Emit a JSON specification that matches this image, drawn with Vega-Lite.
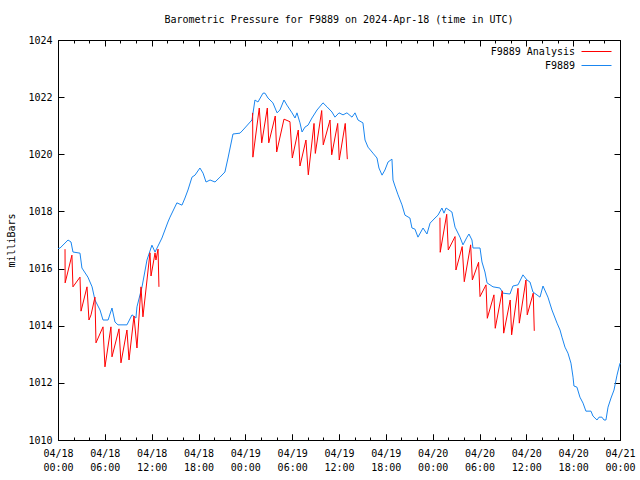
{
  "$schema": "https://vega.github.io/schema/vega-lite/v6.json",
  "width": 562,
  "height": 400,
  "autosize": {"type": "none"},
  "padding": {"left": 58, "top": 40, "right": 20, "bottom": 40},
  "background": "white",
  "config": {"view": {"stroke": null}},
  "title": {"text": "Barometric Pressure for F9889 on 2024-Apr-18 (time in UTC)", "font": "DejaVu Sans Mono", "fontSize": 10, "fontWeight": "normal", "color": "black", "offset": 10},
  "data": {"values": [
    {"t":"2024-04-18T00:00Z","p":1016.70,"s":"F9889","g":"b"},
    {"t":"2024-04-18T00:16Z","p":1016.72,"s":"F9889","g":"b"},
    {"t":"2024-04-18T01:17Z","p":1017.00,"s":"F9889","g":"b"},
    {"t":"2024-04-18T01:40Z","p":1016.93,"s":"F9889","g":"b"},
    {"t":"2024-04-18T01:55Z","p":1016.58,"s":"F9889","g":"b"},
    {"t":"2024-04-18T02:49Z","p":1016.54,"s":"F9889","g":"b"},
    {"t":"2024-04-18T03:04Z","p":1016.02,"s":"F9889","g":"b"},
    {"t":"2024-04-18T03:50Z","p":1015.70,"s":"F9889","g":"b"},
    {"t":"2024-04-18T04:22Z","p":1015.36,"s":"F9889","g":"b"},
    {"t":"2024-04-18T04:44Z","p":1014.90,"s":"F9889","g":"b"},
    {"t":"2024-04-18T05:23Z","p":1014.55,"s":"F9889","g":"b"},
    {"t":"2024-04-18T05:46Z","p":1014.20,"s":"F9889","g":"b"},
    {"t":"2024-04-18T06:25Z","p":1014.20,"s":"F9889","g":"b"},
    {"t":"2024-04-18T06:55Z","p":1014.62,"s":"F9889","g":"b"},
    {"t":"2024-04-18T07:18Z","p":1014.13,"s":"F9889","g":"b"},
    {"t":"2024-04-18T07:41Z","p":1014.03,"s":"F9889","g":"b"},
    {"t":"2024-04-18T08:50Z","p":1014.03,"s":"F9889","g":"b"},
    {"t":"2024-04-18T09:29Z","p":1014.38,"s":"F9889","g":"b"},
    {"t":"2024-04-18T09:59Z","p":1014.27,"s":"F9889","g":"b"},
    {"t":"2024-04-18T10:07Z","p":1014.66,"s":"F9889","g":"b"},
    {"t":"2024-04-18T10:46Z","p":1015.36,"s":"F9889","g":"b"},
    {"t":"2024-04-18T11:24Z","p":1016.30,"s":"F9889","g":"b"},
    {"t":"2024-04-18T12:02Z","p":1016.82,"s":"F9889","g":"b"},
    {"t":"2024-04-18T12:26Z","p":1016.58,"s":"F9889","g":"b"},
    {"t":"2024-04-18T13:19Z","p":1017.07,"s":"F9889","g":"b"},
    {"t":"2024-04-18T14:05Z","p":1017.63,"s":"F9889","g":"b"},
    {"t":"2024-04-18T14:21Z","p":1017.80,"s":"F9889","g":"b"},
    {"t":"2024-04-18T15:14Z","p":1018.30,"s":"F9889","g":"b"},
    {"t":"2024-04-18T15:53Z","p":1018.22,"s":"F9889","g":"b"},
    {"t":"2024-04-18T16:16Z","p":1018.47,"s":"F9889","g":"b"},
    {"t":"2024-04-18T16:39Z","p":1018.75,"s":"F9889","g":"b"},
    {"t":"2024-04-18T17:10Z","p":1019.20,"s":"F9889","g":"b"},
    {"t":"2024-04-18T17:33Z","p":1019.27,"s":"F9889","g":"b"},
    {"t":"2024-04-18T18:11Z","p":1019.52,"s":"F9889","g":"b"},
    {"t":"2024-04-18T18:35Z","p":1019.34,"s":"F9889","g":"b"},
    {"t":"2024-04-18T18:58Z","p":1019.03,"s":"F9889","g":"b"},
    {"t":"2024-04-18T19:29Z","p":1019.10,"s":"F9889","g":"b"},
    {"t":"2024-04-18T20:07Z","p":1019.03,"s":"F9889","g":"b"},
    {"t":"2024-04-18T20:45Z","p":1019.20,"s":"F9889","g":"b"},
    {"t":"2024-04-18T21:23Z","p":1019.38,"s":"F9889","g":"b"},
    {"t":"2024-04-18T21:47Z","p":1019.87,"s":"F9889","g":"b"},
    {"t":"2024-04-18T22:25Z","p":1020.71,"s":"F9889","g":"b"},
    {"t":"2024-04-18T23:19Z","p":1020.74,"s":"F9889","g":"b"},
    {"t":"2024-04-18T23:42Z","p":1020.85,"s":"F9889","g":"b"},
    {"t":"2024-04-19T00:51Z","p":1021.20,"s":"F9889","g":"b"},
    {"t":"2024-04-19T01:14Z","p":1021.90,"s":"F9889","g":"b"},
    {"t":"2024-04-19T01:37Z","p":1021.83,"s":"F9889","g":"b"},
    {"t":"2024-04-19T02:16Z","p":1022.14,"s":"F9889","g":"b"},
    {"t":"2024-04-19T02:31Z","p":1022.14,"s":"F9889","g":"b"},
    {"t":"2024-04-19T02:54Z","p":1021.97,"s":"F9889","g":"b"},
    {"t":"2024-04-19T03:32Z","p":1021.80,"s":"F9889","g":"b"},
    {"t":"2024-04-19T04:04Z","p":1021.45,"s":"F9889","g":"b"},
    {"t":"2024-04-19T04:26Z","p":1021.55,"s":"F9889","g":"b"},
    {"t":"2024-04-19T04:57Z","p":1021.90,"s":"F9889","g":"b"},
    {"t":"2024-04-19T05:20Z","p":1021.72,"s":"F9889","g":"b"},
    {"t":"2024-04-19T05:59Z","p":1021.45,"s":"F9889","g":"b"},
    {"t":"2024-04-19T06:22Z","p":1021.27,"s":"F9889","g":"b"},
    {"t":"2024-04-19T06:37Z","p":1021.45,"s":"F9889","g":"b"},
    {"t":"2024-04-19T07:00Z","p":1021.10,"s":"F9889","g":"b"},
    {"t":"2024-04-19T07:16Z","p":1020.78,"s":"F9889","g":"b"},
    {"t":"2024-04-19T07:38Z","p":1020.95,"s":"F9889","g":"b"},
    {"t":"2024-04-19T08:02Z","p":1021.02,"s":"F9889","g":"b"},
    {"t":"2024-04-19T08:32Z","p":1021.27,"s":"F9889","g":"b"},
    {"t":"2024-04-19T09:11Z","p":1021.55,"s":"F9889","g":"b"},
    {"t":"2024-04-19T09:57Z","p":1021.80,"s":"F9889","g":"b"},
    {"t":"2024-04-19T10:28Z","p":1021.66,"s":"F9889","g":"b"},
    {"t":"2024-04-19T11:06Z","p":1021.48,"s":"F9889","g":"b"},
    {"t":"2024-04-19T11:29Z","p":1021.30,"s":"F9889","g":"b"},
    {"t":"2024-04-19T12:00Z","p":1021.45,"s":"F9889","g":"b"},
    {"t":"2024-04-19T12:31Z","p":1021.38,"s":"F9889","g":"b"},
    {"t":"2024-04-19T13:01Z","p":1021.45,"s":"F9889","g":"b"},
    {"t":"2024-04-19T13:40Z","p":1021.30,"s":"F9889","g":"b"},
    {"t":"2024-04-19T14:03Z","p":1021.45,"s":"F9889","g":"b"},
    {"t":"2024-04-19T14:26Z","p":1021.20,"s":"F9889","g":"b"},
    {"t":"2024-04-19T15:04Z","p":1021.10,"s":"F9889","g":"b"},
    {"t":"2024-04-19T15:20Z","p":1020.50,"s":"F9889","g":"b"},
    {"t":"2024-04-19T15:43Z","p":1020.25,"s":"F9889","g":"b"},
    {"t":"2024-04-19T16:21Z","p":1020.04,"s":"F9889","g":"b"},
    {"t":"2024-04-19T16:52Z","p":1019.87,"s":"F9889","g":"b"},
    {"t":"2024-04-19T17:07Z","p":1019.52,"s":"F9889","g":"b"},
    {"t":"2024-04-19T17:31Z","p":1019.27,"s":"F9889","g":"b"},
    {"t":"2024-04-19T17:53Z","p":1019.45,"s":"F9889","g":"b"},
    {"t":"2024-04-19T18:17Z","p":1019.73,"s":"F9889","g":"b"},
    {"t":"2024-04-19T18:47Z","p":1019.83,"s":"F9889","g":"b"},
    {"t":"2024-04-19T18:55Z","p":1019.10,"s":"F9889","g":"b"},
    {"t":"2024-04-19T19:10Z","p":1018.89,"s":"F9889","g":"b"},
    {"t":"2024-04-19T19:34Z","p":1018.58,"s":"F9889","g":"b"},
    {"t":"2024-04-19T20:04Z","p":1018.23,"s":"F9889","g":"b"},
    {"t":"2024-04-19T20:27Z","p":1017.87,"s":"F9889","g":"b"},
    {"t":"2024-04-19T21:05Z","p":1017.77,"s":"F9889","g":"b"},
    {"t":"2024-04-19T21:21Z","p":1017.42,"s":"F9889","g":"b"},
    {"t":"2024-04-19T21:44Z","p":1017.38,"s":"F9889","g":"b"},
    {"t":"2024-04-19T22:07Z","p":1017.10,"s":"F9889","g":"b"},
    {"t":"2024-04-19T22:46Z","p":1017.42,"s":"F9889","g":"b"},
    {"t":"2024-04-19T23:16Z","p":1017.21,"s":"F9889","g":"b"},
    {"t":"2024-04-19T23:40Z","p":1017.59,"s":"F9889","g":"b"},
    {"t":"2024-04-20T00:18Z","p":1017.77,"s":"F9889","g":"b"},
    {"t":"2024-04-20T00:41Z","p":1017.87,"s":"F9889","g":"b"},
    {"t":"2024-04-20T01:11Z","p":1018.12,"s":"F9889","g":"b"},
    {"t":"2024-04-20T01:27Z","p":1017.94,"s":"F9889","g":"b"},
    {"t":"2024-04-20T01:43Z","p":1018.12,"s":"F9889","g":"b"},
    {"t":"2024-04-20T02:28Z","p":1017.98,"s":"F9889","g":"b"},
    {"t":"2024-04-20T02:52Z","p":1017.45,"s":"F9889","g":"b"},
    {"t":"2024-04-20T03:30Z","p":1017.10,"s":"F9889","g":"b"},
    {"t":"2024-04-20T03:53Z","p":1016.83,"s":"F9889","g":"b"},
    {"t":"2024-04-20T04:24Z","p":1017.10,"s":"F9889","g":"b"},
    {"t":"2024-04-20T04:39Z","p":1017.21,"s":"F9889","g":"b"},
    {"t":"2024-04-20T05:02Z","p":1017.00,"s":"F9889","g":"b"},
    {"t":"2024-04-20T05:10Z","p":1016.72,"s":"F9889","g":"b"},
    {"t":"2024-04-20T06:04Z","p":1016.72,"s":"F9889","g":"b"},
    {"t":"2024-04-20T06:19Z","p":1016.23,"s":"F9889","g":"b"},
    {"t":"2024-04-20T06:42Z","p":1015.88,"s":"F9889","g":"b"},
    {"t":"2024-04-20T06:58Z","p":1015.50,"s":"F9889","g":"b"},
    {"t":"2024-04-20T07:44Z","p":1015.36,"s":"F9889","g":"b"},
    {"t":"2024-04-20T08:37Z","p":1015.32,"s":"F9889","g":"b"},
    {"t":"2024-04-20T09:01Z","p":1015.14,"s":"F9889","g":"b"},
    {"t":"2024-04-20T09:54Z","p":1015.11,"s":"F9889","g":"b"},
    {"t":"2024-04-20T10:17Z","p":1015.39,"s":"F9889","g":"b"},
    {"t":"2024-04-20T10:56Z","p":1015.43,"s":"F9889","g":"b"},
    {"t":"2024-04-20T11:34Z","p":1015.78,"s":"F9889","g":"b"},
    {"t":"2024-04-20T12:05Z","p":1015.60,"s":"F9889","g":"b"},
    {"t":"2024-04-20T12:28Z","p":1015.53,"s":"F9889","g":"b"},
    {"t":"2024-04-20T12:51Z","p":1015.18,"s":"F9889","g":"b"},
    {"t":"2024-04-20T13:45Z","p":1015.00,"s":"F9889","g":"b"},
    {"t":"2024-04-20T14:08Z","p":1015.39,"s":"F9889","g":"b"},
    {"t":"2024-04-20T14:46Z","p":1015.00,"s":"F9889","g":"b"},
    {"t":"2024-04-20T15:17Z","p":1014.55,"s":"F9889","g":"b"},
    {"t":"2024-04-20T15:56Z","p":1014.09,"s":"F9889","g":"b"},
    {"t":"2024-04-20T16:19Z","p":1013.85,"s":"F9889","g":"b"},
    {"t":"2024-04-20T16:34Z","p":1013.60,"s":"F9889","g":"b"},
    {"t":"2024-04-20T16:57Z","p":1013.25,"s":"F9889","g":"b"},
    {"t":"2024-04-20T17:20Z","p":1013.04,"s":"F9889","g":"b"},
    {"t":"2024-04-20T17:43Z","p":1012.69,"s":"F9889","g":"b"},
    {"t":"2024-04-20T17:59Z","p":1012.20,"s":"F9889","g":"b"},
    {"t":"2024-04-20T18:06Z","p":1011.89,"s":"F9889","g":"b"},
    {"t":"2024-04-20T18:29Z","p":1011.85,"s":"F9889","g":"b"},
    {"t":"2024-04-20T18:52Z","p":1011.50,"s":"F9889","g":"b"},
    {"t":"2024-04-20T19:16Z","p":1011.29,"s":"F9889","g":"b"},
    {"t":"2024-04-20T19:38Z","p":1011.01,"s":"F9889","g":"b"},
    {"t":"2024-04-20T20:17Z","p":1011.01,"s":"F9889","g":"b"},
    {"t":"2024-04-20T20:32Z","p":1010.84,"s":"F9889","g":"b"},
    {"t":"2024-04-20T21:03Z","p":1010.70,"s":"F9889","g":"b"},
    {"t":"2024-04-20T21:19Z","p":1010.80,"s":"F9889","g":"b"},
    {"t":"2024-04-20T21:41Z","p":1010.80,"s":"F9889","g":"b"},
    {"t":"2024-04-20T21:57Z","p":1010.70,"s":"F9889","g":"b"},
    {"t":"2024-04-20T22:12Z","p":1010.70,"s":"F9889","g":"b"},
    {"t":"2024-04-20T22:28Z","p":1011.15,"s":"F9889","g":"b"},
    {"t":"2024-04-20T22:51Z","p":1011.47,"s":"F9889","g":"b"},
    {"t":"2024-04-20T23:14Z","p":1011.75,"s":"F9889","g":"b"},
    {"t":"2024-04-20T23:37Z","p":1012.27,"s":"F9889","g":"b"},
    {"t":"2024-04-21T00:00Z","p":1012.69,"s":"F9889","g":"b"},

    {"t":"2024-04-18T00:54Z","p":1016.68,"s":"F9889 Analysis","g":"a1"},
    {"t":"2024-04-18T00:55Z","p":1015.50,"s":"F9889 Analysis","g":"a1"},
    {"t":"2024-04-18T01:47Z","p":1016.47,"s":"F9889 Analysis","g":"a1"},
    {"t":"2024-04-18T01:55Z","p":1015.36,"s":"F9889 Analysis","g":"a1"},
    {"t":"2024-04-18T02:49Z","p":1015.70,"s":"F9889 Analysis","g":"a1"},
    {"t":"2024-04-18T02:57Z","p":1014.51,"s":"F9889 Analysis","g":"a1"},
    {"t":"2024-04-18T03:43Z","p":1015.36,"s":"F9889 Analysis","g":"a1"},
    {"t":"2024-04-18T03:58Z","p":1014.20,"s":"F9889 Analysis","g":"a1"},
    {"t":"2024-04-18T04:14Z","p":1014.38,"s":"F9889 Analysis","g":"a1"},
    {"t":"2024-04-18T04:44Z","p":1015.00,"s":"F9889 Analysis","g":"a1"},
    {"t":"2024-04-18T04:52Z","p":1013.40,"s":"F9889 Analysis","g":"a1"},
    {"t":"2024-04-18T05:46Z","p":1013.96,"s":"F9889 Analysis","g":"a1"},
    {"t":"2024-04-18T06:01Z","p":1012.56,"s":"F9889 Analysis","g":"a1"},
    {"t":"2024-04-18T06:47Z","p":1013.96,"s":"F9889 Analysis","g":"a1"},
    {"t":"2024-04-18T06:55Z","p":1012.91,"s":"F9889 Analysis","g":"a1"},
    {"t":"2024-04-18T07:49Z","p":1013.89,"s":"F9889 Analysis","g":"a1"},
    {"t":"2024-04-18T08:04Z","p":1012.70,"s":"F9889 Analysis","g":"a1"},
    {"t":"2024-04-18T08:50Z","p":1013.85,"s":"F9889 Analysis","g":"a1"},
    {"t":"2024-04-18T09:06Z","p":1012.80,"s":"F9889 Analysis","g":"a1"},
    {"t":"2024-04-18T09:44Z","p":1014.34,"s":"F9889 Analysis","g":"a1"},
    {"t":"2024-04-18T10:07Z","p":1013.22,"s":"F9889 Analysis","g":"a1"},
    {"t":"2024-04-18T10:38Z","p":1015.36,"s":"F9889 Analysis","g":"a1"},
    {"t":"2024-04-18T10:53Z","p":1014.31,"s":"F9889 Analysis","g":"a1"},
    {"t":"2024-04-18T11:47Z","p":1016.55,"s":"F9889 Analysis","g":"a1"},
    {"t":"2024-04-18T11:55Z","p":1015.74,"s":"F9889 Analysis","g":"a1"},
    {"t":"2024-04-18T12:26Z","p":1016.55,"s":"F9889 Analysis","g":"a1"},
    {"t":"2024-04-18T12:33Z","p":1016.30,"s":"F9889 Analysis","g":"a1"},
    {"t":"2024-04-18T12:49Z","p":1016.68,"s":"F9889 Analysis","g":"a1"},
    {"t":"2024-04-18T12:56Z","p":1015.36,"s":"F9889 Analysis","g":"a1"},

    {"t":"2024-04-19T00:56Z","p":1021.45,"s":"F9889 Analysis","g":"a2"},
    {"t":"2024-04-19T00:58Z","p":1019.90,"s":"F9889 Analysis","g":"a2"},
    {"t":"2024-04-19T01:47Z","p":1021.62,"s":"F9889 Analysis","g":"a2"},
    {"t":"2024-04-19T02:06Z","p":1020.40,"s":"F9889 Analysis","g":"a2"},
    {"t":"2024-04-19T02:49Z","p":1021.62,"s":"F9889 Analysis","g":"a2"},
    {"t":"2024-04-19T03:00Z","p":1020.40,"s":"F9889 Analysis","g":"a2"},
    {"t":"2024-04-19T03:50Z","p":1021.34,"s":"F9889 Analysis","g":"a2"},
    {"t":"2024-04-19T04:01Z","p":1020.08,"s":"F9889 Analysis","g":"a2"},
    {"t":"2024-04-19T04:57Z","p":1021.23,"s":"F9889 Analysis","g":"a2"},
    {"t":"2024-04-19T05:43Z","p":1021.14,"s":"F9889 Analysis","g":"a2"},
    {"t":"2024-04-19T06:01Z","p":1019.87,"s":"F9889 Analysis","g":"a2"},
    {"t":"2024-04-19T06:47Z","p":1020.85,"s":"F9889 Analysis","g":"a2"},
    {"t":"2024-04-19T07:00Z","p":1019.59,"s":"F9889 Analysis","g":"a2"},
    {"t":"2024-04-19T07:46Z","p":1020.50,"s":"F9889 Analysis","g":"a2"},
    {"t":"2024-04-19T08:04Z","p":1019.28,"s":"F9889 Analysis","g":"a2"},
    {"t":"2024-04-19T08:48Z","p":1021.08,"s":"F9889 Analysis","g":"a2"},
    {"t":"2024-04-19T08:58Z","p":1020.03,"s":"F9889 Analysis","g":"a2"},
    {"t":"2024-04-19T09:47Z","p":1021.53,"s":"F9889 Analysis","g":"a2"},
    {"t":"2024-04-19T09:59Z","p":1020.33,"s":"F9889 Analysis","g":"a2"},
    {"t":"2024-04-19T10:51Z","p":1021.20,"s":"F9889 Analysis","g":"a2"},
    {"t":"2024-04-19T11:04Z","p":1019.98,"s":"F9889 Analysis","g":"a2"},
    {"t":"2024-04-19T11:50Z","p":1021.08,"s":"F9889 Analysis","g":"a2"},
    {"t":"2024-04-19T12:02Z","p":1019.80,"s":"F9889 Analysis","g":"a2"},
    {"t":"2024-04-19T12:48Z","p":1021.08,"s":"F9889 Analysis","g":"a2"},
    {"t":"2024-04-19T13:04Z","p":1019.83,"s":"F9889 Analysis","g":"a2"},

    {"t":"2024-04-20T00:56Z","p":1017.78,"s":"F9889 Analysis","g":"a3"},
    {"t":"2024-04-20T00:58Z","p":1016.57,"s":"F9889 Analysis","g":"a3"},
    {"t":"2024-04-20T01:48Z","p":1017.90,"s":"F9889 Analysis","g":"a3"},
    {"t":"2024-04-20T02:00Z","p":1016.65,"s":"F9889 Analysis","g":"a3"},
    {"t":"2024-04-20T02:52Z","p":1017.12,"s":"F9889 Analysis","g":"a3"},
    {"t":"2024-04-20T02:59Z","p":1015.95,"s":"F9889 Analysis","g":"a3"},
    {"t":"2024-04-20T03:47Z","p":1016.77,"s":"F9889 Analysis","g":"a3"},
    {"t":"2024-04-20T04:03Z","p":1015.54,"s":"F9889 Analysis","g":"a3"},
    {"t":"2024-04-20T04:52Z","p":1016.83,"s":"F9889 Analysis","g":"a3"},
    {"t":"2024-04-20T05:05Z","p":1015.60,"s":"F9889 Analysis","g":"a3"},
    {"t":"2024-04-20T05:53Z","p":1016.22,"s":"F9889 Analysis","g":"a3"},
    {"t":"2024-04-20T06:04Z","p":1015.02,"s":"F9889 Analysis","g":"a3"},
    {"t":"2024-04-20T06:50Z","p":1015.43,"s":"F9889 Analysis","g":"a3"},
    {"t":"2024-04-20T07:00Z","p":1014.26,"s":"F9889 Analysis","g":"a3"},
    {"t":"2024-04-20T07:51Z","p":1015.08,"s":"F9889 Analysis","g":"a3"},
    {"t":"2024-04-20T08:01Z","p":1013.91,"s":"F9889 Analysis","g":"a3"},
    {"t":"2024-04-20T08:55Z","p":1015.22,"s":"F9889 Analysis","g":"a3"},
    {"t":"2024-04-20T09:06Z","p":1013.74,"s":"F9889 Analysis","g":"a3"},
    {"t":"2024-04-20T09:56Z","p":1014.90,"s":"F9889 Analysis","g":"a3"},
    {"t":"2024-04-20T10:07Z","p":1013.68,"s":"F9889 Analysis","g":"a3"},
    {"t":"2024-04-20T10:56Z","p":1015.31,"s":"F9889 Analysis","g":"a3"},
    {"t":"2024-04-20T11:06Z","p":1014.09,"s":"F9889 Analysis","g":"a3"},
    {"t":"2024-04-20T11:57Z","p":1015.60,"s":"F9889 Analysis","g":"a3"},
    {"t":"2024-04-20T12:07Z","p":1014.38,"s":"F9889 Analysis","g":"a3"},
    {"t":"2024-04-20T12:53Z","p":1015.14,"s":"F9889 Analysis","g":"a3"},
    {"t":"2024-04-20T13:01Z","p":1013.82,"s":"F9889 Analysis","g":"a3"}
  ]},
  "layer": [
    {
      "mark": {"type": "line", "strokeWidth": 1},
      "encoding": {
        "x": {"field": "t", "type": "temporal",
          "scale": {"type": "utc", "domain": [1713398400000, 1713657600000]},
          "axis": {"orient": "bottom", "title": null, "grid": false,
            "values": [1713398400000, 1713420000000, 1713441600000, 1713463200000, 1713484800000, 1713506400000, 1713528000000, 1713549600000, 1713571200000, 1713592800000, 1713614400000, 1713636000000, 1713657600000],
            "format": "%m/%d", "tickSize": -6, "labelPadding": 14,
            "labelFont": "DejaVu Sans Mono", "labelFontSize": 10, "labelColor": "black",
            "labelOverlap": false, "labelFlush": false, "labelAngle": 0,
            "domainColor": "black", "tickColor": "black"}},
        "y": {"field": "p", "type": "quantitative",
          "scale": {"domain": [1010, 1024], "nice": false, "zero": false},
          "axis": {"orient": "left", "values": [1010, 1012, 1014, 1016, 1018, 1020, 1022, 1024], "format": "d",
            "title": "milliBars", "titleFont": "DejaVu Sans Mono", "titleFontSize": 10, "titleFontWeight": "normal", "titleColor": "black", "titlePadding": 11,
            "grid": false, "tickSize": -6, "labelPadding": 12, "labelFont": "DejaVu Sans Mono", "labelFontSize": 10, "labelColor": "black", "labelFlush": false,
            "domainColor": "black", "tickColor": "black"}},
        "color": {"field": "s", "type": "nominal",
          "scale": {"domain": ["F9889 Analysis", "F9889"], "range": ["#ff0000", "#1a86f0"]},
          "legend": {"orient": "top-right", "title": null, "offset": 6, "padding": 0,
            "labelFont": "DejaVu Sans Mono", "labelFontSize": 10, "labelColor": "black",
            "symbolType": "M20,0H26", "symbolSize": 100, "symbolStrokeWidth": 1,
            "rowPadding": 3, "labelAlign": "right", "labelOffset": 88}},
        "detail": {"field": "g"}
      }
    },
    {
      "mark": {"type": "line", "strokeOpacity": 0},
      "encoding": {
        "x": {"field": "t", "type": "temporal",
          "axis": {"orient": "bottom", "title": null, "grid": false, "domain": false,
            "values": [1713398400000, 1713420000000, 1713441600000, 1713463200000, 1713484800000, 1713506400000, 1713528000000, 1713549600000, 1713571200000, 1713592800000, 1713614400000, 1713636000000, 1713657600000],
            "format": "%H:%M", "tickSize": -6, "labelPadding": 28,
            "labelFont": "DejaVu Sans Mono", "labelFontSize": 10, "labelColor": "black",
            "labelOverlap": false, "labelFlush": false, "labelAngle": 0, "tickColor": "black"}},
        "y": {"field": "p", "type": "quantitative",
          "axis": {"orient": "right", "values": [1010, 1012, 1014, 1016, 1018, 1020, 1022, 1024],
            "title": null, "grid": false, "labels": false, "tickSize": -6,
            "domainColor": "black", "tickColor": "black"}},
        "detail": {"field": "g"}
      }
    },
    {
      "mark": {"type": "line", "strokeOpacity": 0},
      "encoding": {
        "x": {"field": "t", "type": "temporal",
          "axis": {"orient": "bottom", "title": null, "grid": false, "domain": false, "labels": false,
            "values": [1713398400000, 1713405600000, 1713412800000, 1713420000000, 1713427200000, 1713434400000, 1713441600000, 1713448800000, 1713456000000, 1713463200000, 1713470400000, 1713477600000, 1713484800000, 1713492000000, 1713499200000, 1713506400000, 1713513600000, 1713520800000, 1713528000000, 1713535200000, 1713542400000, 1713549600000, 1713556800000, 1713564000000, 1713571200000, 1713578400000, 1713585600000, 1713592800000, 1713600000000, 1713607200000, 1713614400000, 1713621600000, 1713628800000, 1713636000000, 1713643200000, 1713650400000, 1713657600000],
            "tickSize": -3, "tickColor": "black"}},
        "y": {"field": "p", "type": "quantitative", "axis": null},
        "detail": {"field": "g"}
      }
    },
    {
      "mark": {"type": "line", "strokeOpacity": 0},
      "encoding": {
        "x": {"field": "t", "type": "temporal",
          "axis": {"orient": "top", "title": null, "grid": false, "labels": false,
            "values": [1713398400000, 1713420000000, 1713441600000, 1713463200000, 1713484800000, 1713506400000, 1713528000000, 1713549600000, 1713571200000, 1713592800000, 1713614400000, 1713636000000, 1713657600000],
            "tickSize": -6, "domainColor": "black", "tickColor": "black"}},
        "y": {"field": "p", "type": "quantitative", "axis": null},
        "detail": {"field": "g"}
      }
    },
    {
      "mark": {"type": "line", "strokeOpacity": 0},
      "encoding": {
        "x": {"field": "t", "type": "temporal",
          "axis": {"orient": "top", "title": null, "grid": false, "domain": false, "labels": false,
            "values": [1713398400000, 1713405600000, 1713412800000, 1713420000000, 1713427200000, 1713434400000, 1713441600000, 1713448800000, 1713456000000, 1713463200000, 1713470400000, 1713477600000, 1713484800000, 1713492000000, 1713499200000, 1713506400000, 1713513600000, 1713520800000, 1713528000000, 1713535200000, 1713542400000, 1713549600000, 1713556800000, 1713564000000, 1713571200000, 1713578400000, 1713585600000, 1713592800000, 1713600000000, 1713607200000, 1713614400000, 1713621600000, 1713628800000, 1713636000000, 1713643200000, 1713650400000, 1713657600000],
            "tickSize": -3, "tickColor": "black"}},
        "y": {"field": "p", "type": "quantitative", "axis": null},
        "detail": {"field": "g"}
      }
    }
  ],
  "resolve": {"axis": {"x": "independent", "y": "independent"}}
}
